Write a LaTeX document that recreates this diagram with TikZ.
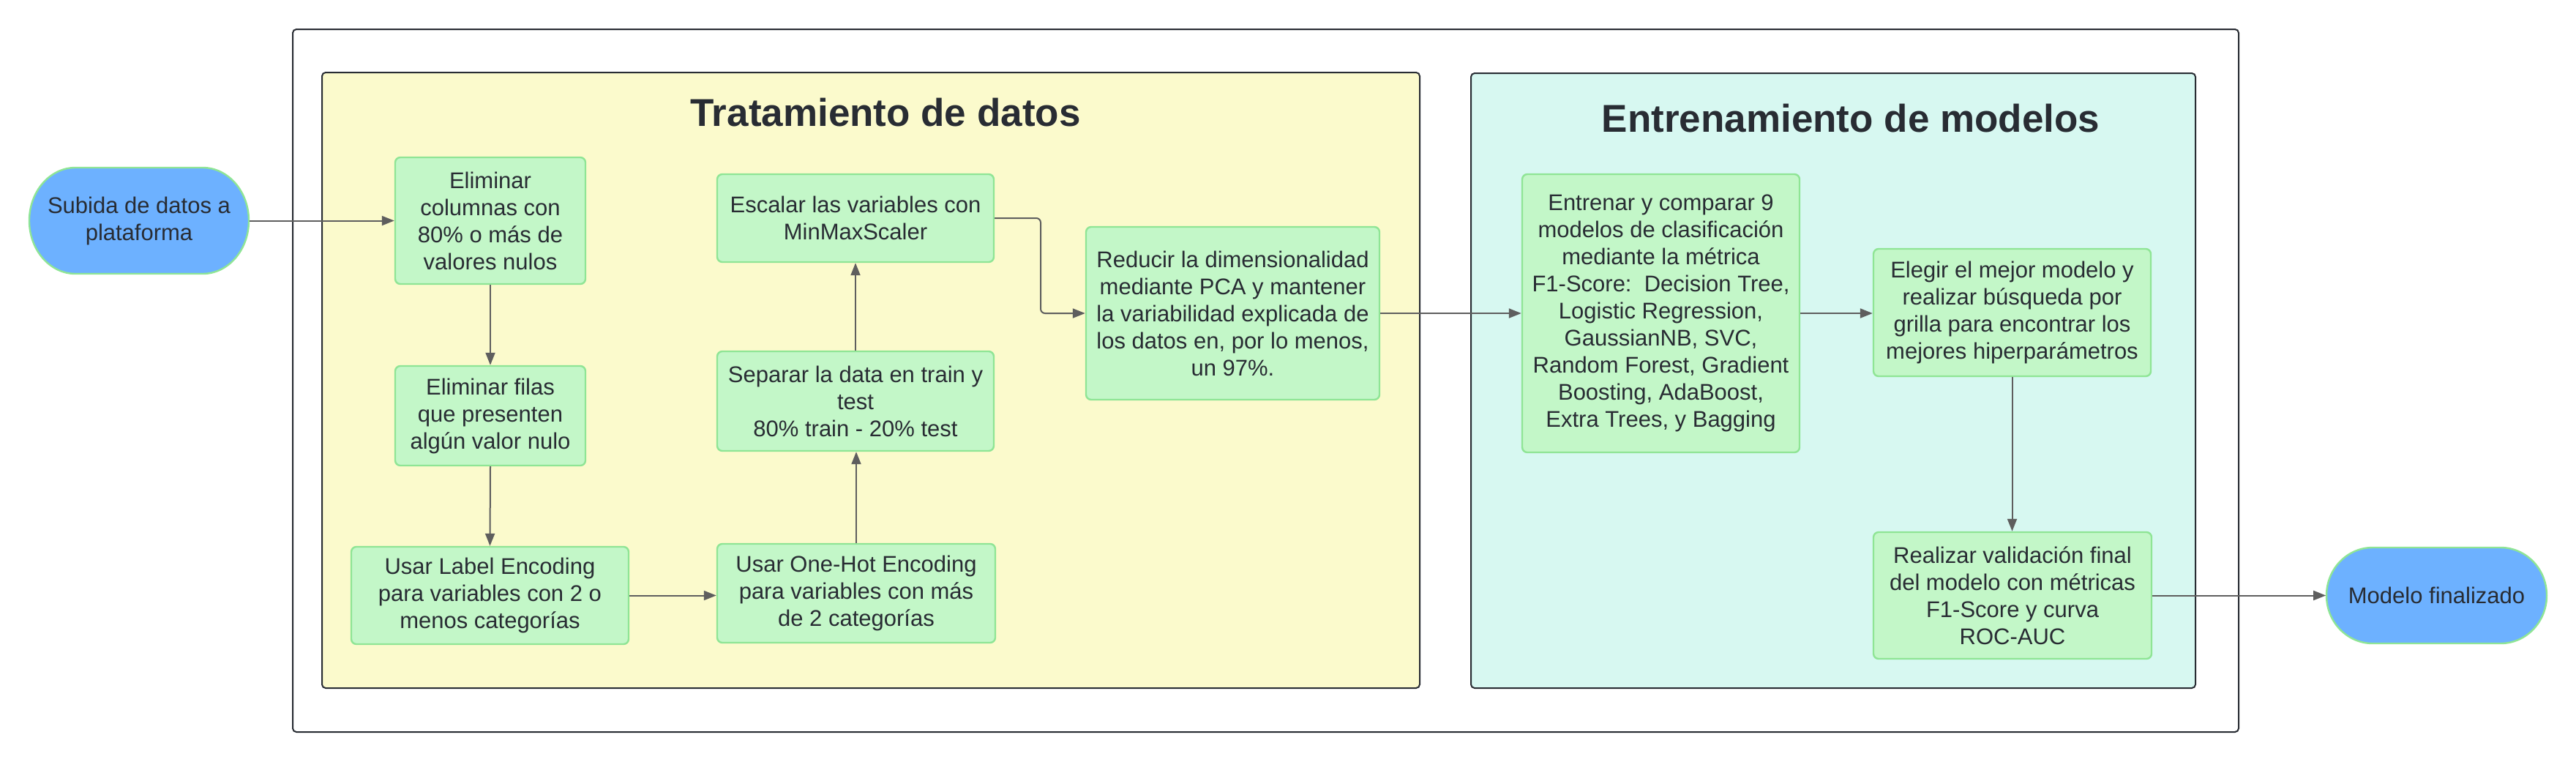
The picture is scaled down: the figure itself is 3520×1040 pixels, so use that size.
\documentclass[tikz,border=0pt]{standalone}
\usepackage{fontspec}
\setmainfont{Liberation Sans}
\usetikzlibrary{arrows.meta}
\definecolor{textdark}{HTML}{282C33}
\definecolor{arrowgray}{HTML}{5E5E5E}
\definecolor{boxfill}{HTML}{C3F7C8}
\definecolor{boxline}{HTML}{8FE595}
\definecolor{termblue}{HTML}{6DB1FF}
\definecolor{yellowfill}{HTML}{FBFACC}
\definecolor{cyanfill}{HTML}{D7F8F1}
\tikzset{
  container/.style={draw=textdark, line width=0.5pt, rounded corners=1.25pt},
  procbox/.style={draw=boxline, fill=boxfill, line width=0.6pt, rounded corners=1.75pt,
    inner sep=0pt, align=center, text=textdark,
    font=\fontsize{7.75pt}{9.25pt}\selectfont},
  termtext/.style={inner sep=0pt, align=center, text=textdark,
    font=\fontsize{7.75pt}{9.25pt}\selectfont},
  termshape/.style={draw=boxline, fill=termblue, line width=0.6pt},
  titletext/.style={inner sep=0pt, anchor=base, text=textdark,
    font=\fontsize{13.25pt}{15pt}\selectfont\bfseries},
  flow/.style={draw=arrowgray, line width=0.5pt, -{Triangle[length=4.25pt, width=3.25pt]}}
}
\begin{document}
\begin{tikzpicture}[x=0.25pt, y=-0.25pt]
\useasboundingbox (0,0) rectangle (3520,1040);
% containers
\draw[container, fill=white] (400,40) rectangle (3059,1000);
\draw[container, fill=yellowfill] (440,99) rectangle (1940,940);
\draw[container, fill=cyanfill] (2010,100) rectangle (3000,940);
\node[titletext] (t1) at (1210,172) {Tratamiento de datos};
\node[titletext] (t2) at (2529,180) {Entrenamiento de modelos};
% terminal shapes
\draw[termshape] (103,229) -- (277,229)
  arc[start angle=90, end angle=-90, x radius=15.75pt, y radius=18.125pt]
  -- (103,374)
  arc[start angle=270, end angle=90, x radius=15.75pt, y radius=18.125pt] -- cycle;
\draw[termshape] (3242,748) -- (3417,748)
  arc[start angle=90, end angle=-90, x radius=15.75pt, y radius=16.375pt]
  -- (3242,879)
  arc[start angle=270, end angle=90, x radius=15.75pt, y radius=16.375pt] -- cycle;
\node[termtext, minimum width=75pt, minimum height=36.25pt] (start) at (190,301.5) {Subida de datos a\\plataforma};
\node[termtext, minimum width=75.25pt, minimum height=32.75pt] (fin) at (3329.5,813.5) {Modelo finalizado};
% process boxes
\node[procbox, minimum width=65pt, minimum height=43.25pt] (b1) at (670,301.5)
  {Eliminar\\columnas con\\80\% o más de\\valores nulos};
\node[procbox, minimum width=65pt, minimum height=34pt] (b2) at (670,568)
  {Eliminar filas\\que presenten\\algún valor nulo};
\node[procbox, minimum width=94.75pt, minimum height=33.25pt] (b3) at (669.5,813.5)
  {Usar Label Encoding\\para variables con 2 o\\menos categorías};
\node[procbox, minimum width=95pt, minimum height=33.75pt] (b4) at (1170,810.5)
  {Usar One-Hot Encoding\\para variables con más\\de 2 categorías};
\node[procbox, minimum width=94.5pt, minimum height=34pt] (b5) at (1169,548)
  {Separar la data en train y\\test\\80\% train - 20\% test};
\node[procbox, minimum width=94.5pt, minimum height=30pt] (b6) at (1169,298)
  {Escalar las variables con\\MinMaxScaler};
\node[procbox, minimum width=100.25pt, minimum height=59pt] (b7) at (1684.5,428)
  {Reducir la dimensionalidad\\mediante PCA y mantener\\la variabilidad explicada de\\los datos en, por lo menos,\\un 97\%.};
\node[procbox, minimum width=94.75pt, minimum height=95pt] (b8) at (2269.5,428)
  {Entrenar y comparar 9\\modelos de clasificación\\mediante la métrica\\F1-Score:\ \ Decision Tree,\\Logistic Regression,\\GaussianNB, SVC,\\Random Forest, Gradient\\Boosting, AdaBoost,\\Extra Trees, y Bagging};
\node[procbox, minimum width=94.75pt, minimum height=43.5pt] (b9) at (2749.5,427)
  {Elegir el mejor modelo y\\realizar búsqueda por\\grilla para encontrar los\\mejores hiperparámetros};
\node[procbox, minimum width=95pt, minimum height=43.25pt] (b10) at (2750,813.5)
  {Realizar validación final\\del modelo con métricas\\F1-Score y curva\\ROC-AUC};
% connectors
\coordinate (bend) at (1422,428);
\draw[flow] (start.east) -- (b1.west);
\draw[flow] (b1.south) -- (b2.north);
\draw[flow] (b2.south) -- (b3.north);
\draw[flow] (b3.east) -- (b3.east -| b4.west);
\draw[flow] (b4.north) -- (b4.north |- b5.south);
\draw[flow] (b5.north) -- (b5.north |- b6.south);
\draw[flow, rounded corners=1.5pt] (b6.east) -| (bend) -- (b7.west);
\draw[flow] (b7.east) -- (b8.west);
\draw[flow] (b8.east) -- (b8.east -| b9.west);
\draw[flow] (b9.south) -- (b9.south |- b10.north);
\draw[flow] (b10.east) -- (fin.west);
\end{tikzpicture}
\end{document}
